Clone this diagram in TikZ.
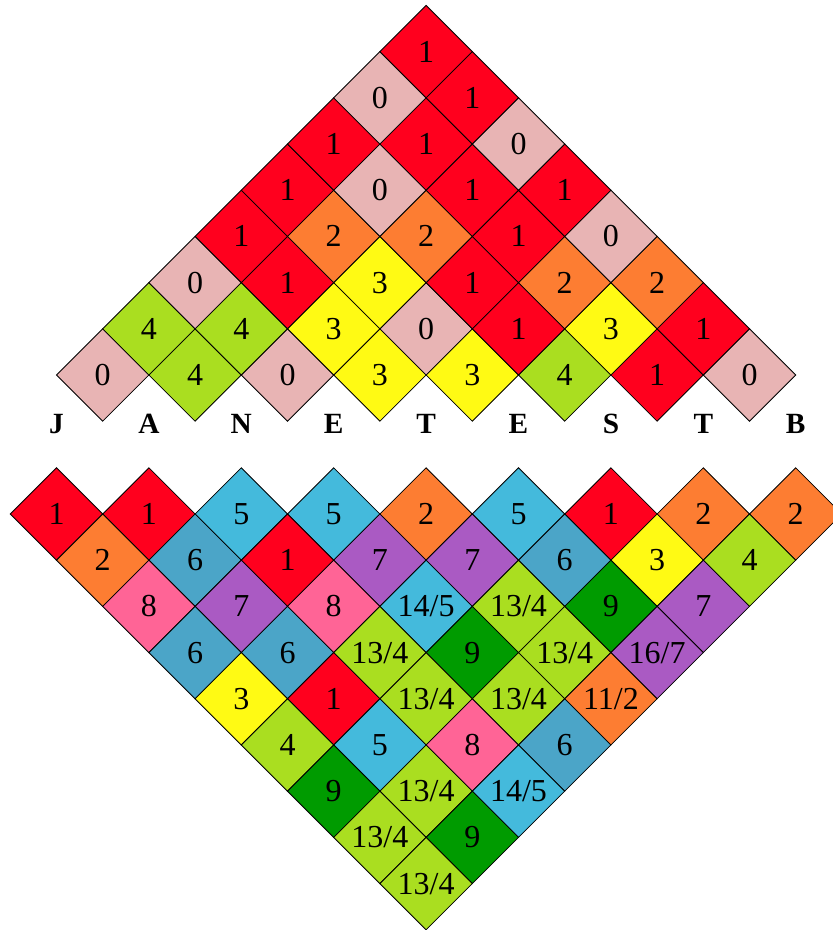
\documentclass[tikz,border=0pt]{standalone}
\usepackage{fontspec}
\setmainfont{Liberation Serif}
\usetikzlibrary{shapes.geometric}
\definecolor{c0}{RGB}{232,180,180}
\definecolor{c1}{RGB}{255,0,30}
\definecolor{c2}{RGB}{253,125,50}
\definecolor{c3}{RGB}{255,250,20}
\definecolor{c4}{RGB}{170,222,32}
\definecolor{c5}{RGB}{68,186,220}
\definecolor{c6}{RGB}{75,165,200}
\definecolor{c7}{RGB}{170,90,195}
\definecolor{c8}{RGB}{255,100,150}
\definecolor{c9}{RGB}{0,155,0}
\tikzset{
  cell/.style={shape=diamond, aspect=1, draw=black, line width=0.6pt,
    minimum width=69.3pt, minimum height=69.3pt, inner sep=0pt, outer sep=0pt,
    font=\fontsize{24}{24}\selectfont},
  letter/.style={font=\fontsize{22}{22}\selectfont\bfseries, inner sep=0pt}
}
\newcommand\toprow[2]{%
  \foreach \v [count=\k from 0] in {#2} {
    \node[cell, fill=c\v] (t-#1-\k) at ({102.7+92.4*(\k+#1/2)}, {375-46.2*#1}) {\v};
  }}
\newcommand\botrow[2]{%
  \foreach \v/\c [count=\k from 0] in {#2} {
    \node[cell, fill=c\c] (b-#1-\k) at ({56.5+92.4*(\k+#1/2)}, {514+46.2*#1}) {\v};
  }}
\begin{document}
\begin{tikzpicture}[x=0.75pt, y=-0.75pt]
\useasboundingbox (0,0) rectangle (832,930);
% upper triangle
\toprow{0}{0,4,0,3,3,4,1,0}
\toprow{1}{4,4,3,0,1,3,1}
\toprow{2}{0,1,3,1,2,2}
\toprow{3}{1,2,2,1,0}
\toprow{4}{1,0,1,1}
\toprow{5}{1,1,0}
\toprow{6}{0,1}
\toprow{7}{1}
% letters
\foreach \L [count=\k from 0] in {J,A,N,E,T,E,S,T,B} {
  \node[letter] (l-\k) at ({56.5+92.4*\k}, 424) {\L};
}
% lower triangle
\botrow{0}{1/1,1/1,5/5,5/5,2/2,5/5,1/1,2/2,2/2}
\botrow{1}{2/2,6/6,1/1,7/7,7/7,6/6,3/3,4/4}
\botrow{2}{8/8,7/7,8/8,{14/5}/5,{13/4}/4,9/9,7/7}
\botrow{3}{6/6,6/6,{13/4}/4,9/9,{13/4}/4,{16/7}/7}
\botrow{4}{3/3,1/1,{13/4}/4,{13/4}/4,{11/2}/2}
\botrow{5}{4/4,5/5,8/8,6/6}
\botrow{6}{9/9,{13/4}/4,{14/5}/5}
\botrow{7}{{13/4}/4,9/9}
\botrow{8}{{13/4}/4}
\end{tikzpicture}
\end{document}
